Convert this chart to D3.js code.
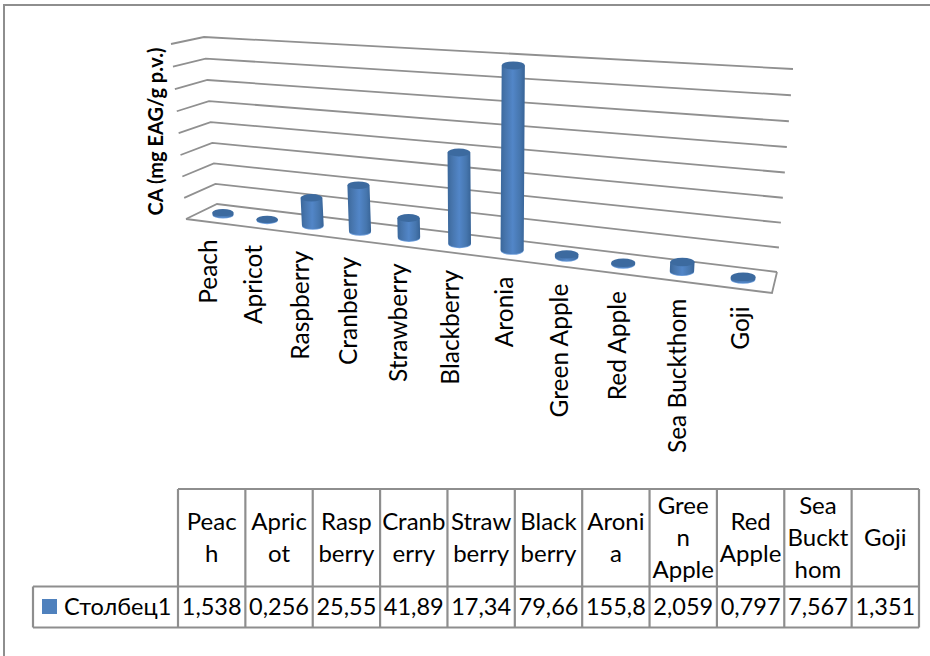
<!DOCTYPE html>
<html>
<head>
<meta charset="utf-8">
<script src="https://cdn.jsdelivr.net/npm/d3@7/dist/d3.min.js"></script>
<style>
html, body { margin: 0; padding: 0; background: #fff; }
svg { display: block; }
text { font-family: Lato, "Noto Sans", sans-serif; fill: #000; }
</style>
</head>
<body>
<div id="chart"></div>
<script>
const categories = ["Peach", "Apricot", "Raspberry", "Cranberry", "Strawberry", "Blackberry", "Aronia", "Green Apple", "Red Apple", "Sea Buckthom", "Goji"]
const values = [1.538, 0.256, 25.55, 41.89, 17.34, 79.66, 155.8, 2.059, 0.797, 7.567, 1.351]
const value_labels = ["1,538", "0,256", "25,55", "41,89", "17,34", "79,66", "155,8", "2,059", "0,797", "7,567", "1,351"]
const header_lines = [["Peac", "h"], ["Apric", "ot"], ["Rasp", "berry"], ["Cranb", "erry"], ["Straw", "berry"], ["Black", "berry"], ["Aroni", "a"], ["Gree", "n", "Apple"], ["Red", "Apple"], ["Sea", "Buckt", "hom"], ["Goji"]]
const value_ticks = [0, 20, 40, 60, 80, 100, 120, 140, 160]
const series_name = "Столбец1"
const axis_title = "CA (mg EAG/g p.v.)"

const width = 930
const height = 656

const svg = d3.select("#chart")
    .append("svg")
    .attr("width", width)
    .attr("height", height)
    .attr("viewBox", [0, 0, width, height])

const defs = svg.append("defs")
const body_grad = defs.append("linearGradient").attr("id", "cyl")
body_grad.selectAll("stop")
    .data([[0, "#3a679b"], [0.18, "#4674ab"], [0.5, "#5286c8"], [0.8, "#4676ae"], [1, "#376396"]])
    .enter().append("stop")
    .attr("offset", d => d[0])
    .attr("stop-color", d => d[1])

const layer_bg = svg.append("g")
const layer_grid = svg.append("g")
const layer_bars = svg.append("g")
const layer_labels = svg.append("g")
const layer_table = svg.append("g")

// box corners of the 3d plot, [x, y]
const box = {
    front_left: {bottom: [186, 219], top: [171, 44]},
    back_left: {bottom: [217, 204], top: [204, 37]},
    front_right: {bottom: [772, 293], top: [784, 85]},
    back_right: {bottom: [777, 272], top: [793, 69]}
}

const lerp = (a, b, t) => [a[0] + (b[0] - a[0]) * t, a[1] + (b[1] - a[1]) * t]
const persp = k => t => t / (t + k * (1 - t))
const persp_x = persp(1.22)
const persp_y = persp(1.04)

const x = d3.scaleBand().domain(categories).range([0, 1])
const y = d3.scaleLinear().domain([0, 160]).range([0, 1])

// t along the width, v depth (0 front, 1 back), f share of height
const project = (t, v, f) => {
    const left = lerp(lerp(box.front_left.bottom, box.back_left.bottom, v), lerp(box.front_left.top, box.back_left.top, v), f)
    const right = lerp(lerp(box.front_right.bottom, box.back_right.bottom, v), lerp(box.front_right.top, box.back_right.top, v), f)
    return lerp(left, right, t)
}

const line = d3.line()

layer_grid.selectAll("path.grid")
    .data(value_ticks)
    .enter().append("path")
    .attr("class", "grid")
    .attr("fill", "none")
    .attr("stroke", "#909090")
    .attr("stroke-width", 1.8)
    .attr("d", d => {
        const f = persp_y(y(d))
        return line([project(0, 0, f), project(0, 1, f), project(1, 1, f)])
    })

layer_grid.append("path")
    .attr("fill", "none")
    .attr("stroke", "#909090")
    .attr("stroke-width", 1.8)
    .attr("d", line([project(0, 0, 0), project(1, 0, 0), project(1, 1, 0)]))

const rx = d3.scaleLinear().domain([0, 1]).range([10.5, 12.5])
const ry = d3.scaleLinear().domain([0, 1]).range([3.6, 4.4])

const bars = layer_bars.selectAll("g")
    .data(categories.map((c, i) => ({name: c, value: values[i], t: persp_x(x(c) + x.bandwidth() / 2)})))
    .enter().append("g")

// lighter rim under the base
bars.append("ellipse")
    .attr("fill", "#6f9fdc")
    .attr("cx", d => project(d.t, 0.5, 0)[0])
    .attr("cy", d => project(d.t, 0.5, 0)[1] + 0.8)
    .attr("rx", d => rx(d.t))
    .attr("ry", d => ry(d.t))

bars.append("path")
    .attr("fill", "url(#cyl)")
    .attr("d", d => {
        const b = project(d.t, 0.5, 0)
        const t = project(d.t, 0.5, persp_y(y(d.value)))
        const r = rx(d.t), s = ry(d.t)
        return `M${b[0] - r},${b[1]}L${t[0] - r},${t[1]}L${t[0] + r},${t[1]}L${b[0] + r},${b[1]}A${r},${s} 0 0 1 ${b[0] - r},${b[1]}Z`
    })

bars.append("ellipse")
    .attr("fill", "#3c6a9f")
    .attr("cx", d => project(d.t, 0.5, persp_y(y(d.value)))[0])
    .attr("cy", d => project(d.t, 0.5, persp_y(y(d.value)))[1])
    .attr("rx", d => rx(d.t))
    .attr("ry", d => ry(d.t))

// category labels under the front edge
layer_labels.selectAll("text.cat")
    .data(categories)
    .enter().append("text")
    .attr("class", "cat")
    .attr("text-anchor", "end")
    .attr("font-size", 24.5)
    .attr("transform", d => {
        const p = project(persp_x(x(d) + x.bandwidth() / 2), 0, 0)
        return `translate(${p[0] + 9},${p[1] + 17.5}) rotate(-90)`
    })
    .text(d => d)

layer_labels.append("text")
    .attr("text-anchor", "middle")
    .attr("font-size", 20)
    .attr("font-weight", "bold")
    .attr("transform", "translate(163,131.5) rotate(-90)")
    .text(axis_title)

// data table
const table_x = d3.scaleBand().domain(categories).range([178, 919])
const table_top = 489
const table_mid = 586.5
const table_bottom = 627.5
const table_left = 33
const line_h = 32

const grid_line = (x1, y1, x2, y2) => layer_table.append("line")
    .attr("x1", x1).attr("y1", y1).attr("x2", x2).attr("y2", y2)
    .attr("stroke", "#8e8e8e").attr("stroke-width", 2.2)

grid_line(178, table_top, 919, table_top)
grid_line(table_left, table_mid, 919, table_mid)
grid_line(table_left, table_bottom, 919, table_bottom)
grid_line(table_left, table_mid, table_left, table_bottom)
categories.forEach(c => grid_line(table_x(c), table_top, table_x(c), table_bottom))
grid_line(919, table_top, 919, table_bottom)

categories.forEach((c, i) => {
    const cx = table_x(c) + table_x.bandwidth() / 2
    const lines = header_lines[i]
    const first = (table_top + table_mid) / 2 + 8 - (lines.length - 1) * line_h / 2
    lines.forEach((s, j) => {
        layer_table.append("text")
            .attr("x", cx)
            .attr("y", first + j * line_h)
            .attr("text-anchor", "middle")
            .attr("font-size", 24)
            .text(s)
    })
    layer_table.append("text")
        .attr("x", cx)
        .attr("y", 615)
        .attr("text-anchor", "middle")
        .attr("font-size", 23.5)
        .text(value_labels[i])
})

layer_table.append("rect")
    .attr("x", 42).attr("y", 599).attr("width", 15).attr("height", 15)
    .attr("fill", "#4f81bd")

layer_table.append("text")
    .attr("x", 64)
    .attr("y", 615)
    .attr("font-size", 23.5)
    .text(series_name)

// outer frame of the chart
layer_bg.append("path")
    .attr("fill", "none")
    .attr("stroke", "#8e8e8e")
    .attr("stroke-width", 2)
    .attr("d", line([[4, height], [4, 5], [width, 5]]))
</script>
</body>
</html>
